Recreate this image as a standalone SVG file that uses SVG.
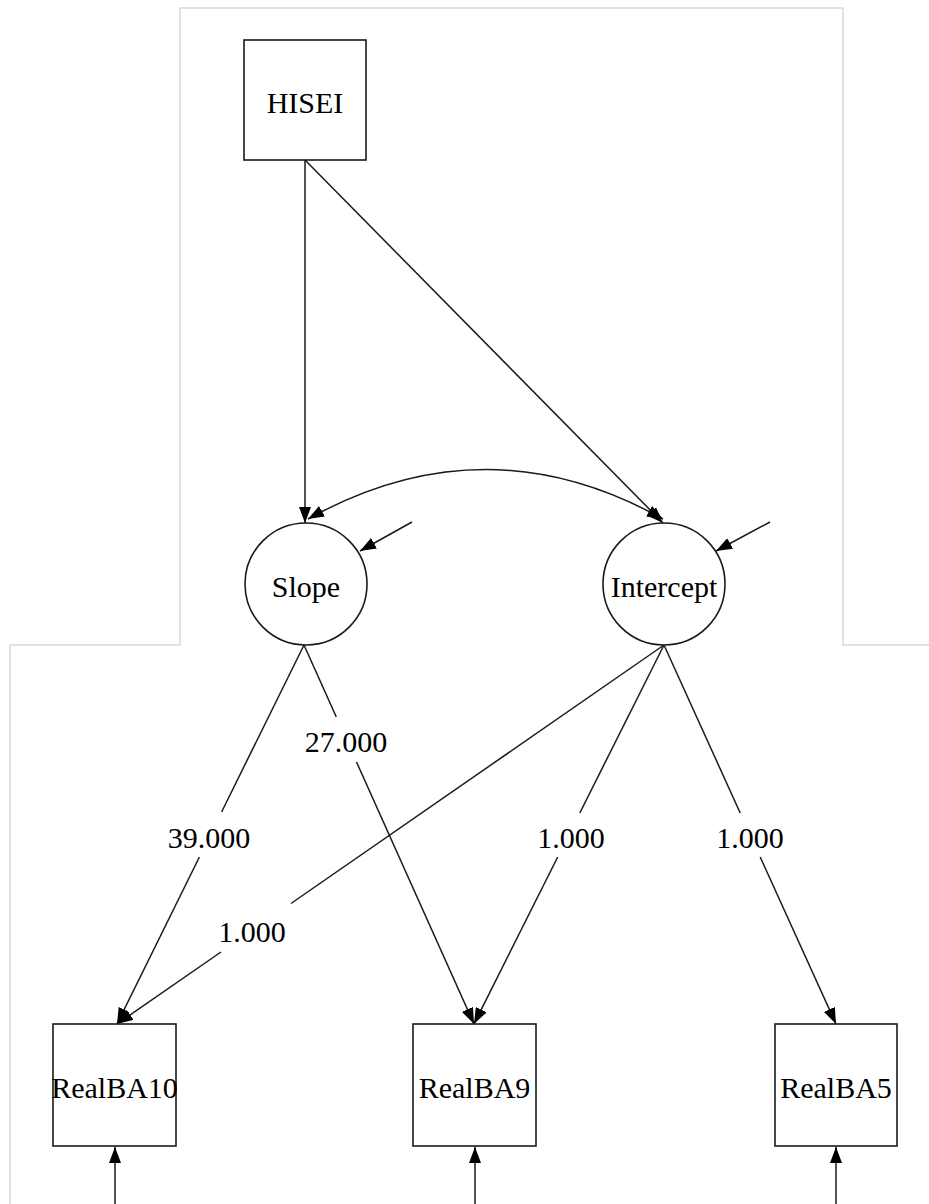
<svg xmlns="http://www.w3.org/2000/svg" width="929" height="1204" viewBox="0 0 929 1204">
<defs>
<style>
.bg{fill:none;stroke:#d9d9d9;stroke-width:1.5}
.node{fill:#fff;stroke:#1a1a1a;stroke-width:1.6}
.edge{fill:none;stroke:#1a1a1a;stroke-width:1.5}
.lbl{font-family:"Liberation Serif","Times New Roman",serif;font-size:30px;fill:#000;text-anchor:middle}
</style>
<marker id="ah" viewBox="0 0 16 12" refX="16" refY="6" markerWidth="16" markerHeight="12" markerUnits="userSpaceOnUse" orient="auto-start-reverse">
<path d="M0,0 L16,6 L0,12 Z" fill="#000"/>
</marker>
</defs>
<rect width="929" height="1204" fill="#fff"/>
<path class="bg" d="M10,1204 V645 H180 V8 H843 V645 H929"/>
<g id="connectors">
<line class="edge" x1="305" y1="160" x2="305" y2="523" marker-end="url(#ah)"/>
<line class="edge" x1="305" y1="160" x2="663" y2="523" marker-end="url(#ah)"/>
<path class="edge" d="M308,519 Q486,420 663,519" marker-start="url(#ah)" marker-end="url(#ah)"/>
<line class="edge" x1="412" y1="522" x2="360" y2="551" marker-end="url(#ah)"/>
<line class="edge" x1="770" y1="522" x2="716" y2="551" marker-end="url(#ah)"/>
<line class="edge" x1="304" y1="645" x2="221.6" y2="812"/>
<line class="edge" x1="199.4" y1="857" x2="117" y2="1024" marker-end="url(#ah)"/>
<line class="edge" x1="304" y1="645" x2="336.3" y2="717"/>
<line class="edge" x1="356.5" y1="762" x2="474" y2="1024" marker-end="url(#ah)"/>
<line class="edge" x1="664" y1="645" x2="291" y2="903.5"/>
<line class="edge" x1="221" y1="952" x2="117" y2="1024" marker-end="url(#ah)"/>
<line class="edge" x1="664" y1="645" x2="579.8" y2="813"/>
<line class="edge" x1="557.7" y1="857" x2="474" y2="1024" marker-end="url(#ah)"/>
<line class="edge" x1="664" y1="645" x2="740.2" y2="813"/>
<line class="edge" x1="760.2" y1="857" x2="836" y2="1024" marker-end="url(#ah)"/>
<line class="edge" x1="115" y1="1204" x2="115" y2="1147" marker-end="url(#ah)"/>
<line class="edge" x1="475" y1="1204" x2="475" y2="1147" marker-end="url(#ah)"/>
<line class="edge" x1="836" y1="1204" x2="836" y2="1147" marker-end="url(#ah)"/>
<text class="lbl" x="346" y="752">27.000</text>
<text class="lbl" x="209" y="848">39.000</text>
<text class="lbl" x="571" y="848">1.000</text>
<text class="lbl" x="750" y="848">1.000</text>
<text class="lbl" x="252" y="942">1.000</text>
</g>
<g id="HISEI">
<rect class="node" x="244" y="40" width="122" height="120"/>
<text class="lbl" x="305" y="113">HISEI</text>
</g>
<g id="Slope">
<circle class="node" cx="306" cy="584" r="61"/>
<text class="lbl" x="306" y="597">Slope</text>
</g>
<g id="Intercept">
<circle class="node" cx="664" cy="584" r="61"/>
<text class="lbl" x="664" y="597">Intercept</text>
</g>
<g id="RealBA10">
<rect class="node" x="53" y="1024" width="123" height="122"/>
<text class="lbl" x="114.5" y="1098">RealBA10</text>
</g>
<g id="RealBA9">
<rect class="node" x="413" y="1024" width="123" height="122"/>
<text class="lbl" x="474.5" y="1098">RealBA9</text>
</g>
<g id="RealBA5">
<rect class="node" x="775" y="1024" width="122" height="122"/>
<text class="lbl" x="836" y="1098">RealBA5</text>
</g>
</svg>
